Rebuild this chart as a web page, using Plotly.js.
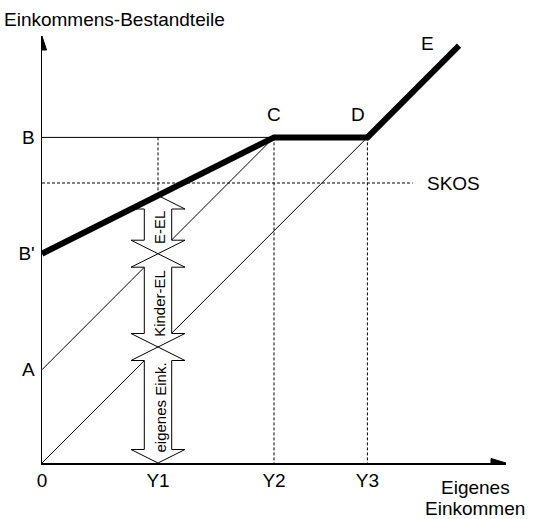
<!DOCTYPE html>
<html>
<head>
<meta charset="utf-8">
<script src="https://cdn.plot.ly/plotly-3.0.1.min.js"></script>
<style>
  html, body { margin: 0; padding: 0; background: white; }
  #graph { width: 534px; height: 519px; }
</style>
</head>
<body>
<div id="graph"></div>
<script>
// values (1 unit ~ 1 px)
const incomeLabels = ['0', 'Y1', 'Y2', 'Y3'];
const incomeVals = [0, 116, 232, 325.4];
const levelLabels = ['A', "B'", 'B'];
const levelVals = [93.3, 209.3, 325.6];
const skosLevel = 280;
const skosEnd = 370.7;

// thick curve B' - C - D - E
const totalX = [0, 232, 325.4, 417];
const totalY = [209.3, 325.6, 325.6, 417.3];
const pointNames = ["B'", 'C', 'D', 'E'];

// stacked parts at Y1, from the bottom
const partNames = ['eigenes Eink.', 'Kinder-EL', 'E-EL'];
const partEdges = [0, 116, 209.3, 267.5];

const xMax = 464;
const yMax = 427;
const font = 'Arial, "Liberation Sans", sans-serif';

const A = levelVals[0];
const B = levelVals[2];
const Y1 = incomeVals[1];
const Y2 = incomeVals[2];
const Y3 = incomeVals[3];

const thin = { color: 'black', width: 1 };
const dashed = { color: 'black', width: 1, dash: '3px,2px' };

function seg(x, y, line) {
    return { x: x, y: y, mode: 'lines', line: line, hoverinfo: 'skip' };
}

const traces = [];

// thin solid guide lines
traces.push(seg([0, Y2], [B, B], thin));
traces.push(seg([0, Y2], [A, totalY[1]], thin));
traces.push(seg([0, Y3], [0, totalY[2]], thin));

// dashed guide lines
traces.push(seg([0, skosEnd], [skosLevel, skosLevel], dashed));
traces.push(seg([Y1, Y1], [B, partEdges[3]], dashed));
traces.push(seg([Y2, Y2], [B, 0], dashed));
traces.push(seg([Y3, Y3], [B, 0], dashed));

// block double arrows at Y1
const headW = 27, shaftW = 13.7, headH = 13.5;
function arrowPath(cx, y0, y1) {
    const xs = [cx, cx + headW, cx + shaftW, cx + shaftW, cx + headW, cx,
                cx - headW, cx - shaftW, cx - shaftW, cx - headW, cx];
    const ys = [y1, y1 - headH, y1 - headH, y0 + headH, y0 + headH, y0,
                y0 + headH, y0 + headH, y1 - headH, y1 - headH, y1];
    return { x: xs, y: ys };
}
const arrows = partNames.map((_, i) => arrowPath(Y1, partEdges[i], partEdges[i + 1]));
arrows.forEach(p => {
    traces.push({ x: p.x, y: p.y, mode: 'lines', fill: 'toself', fillcolor: 'white',
        line: { width: 0, color: 'white' }, hoverinfo: 'skip' });
});
arrows.forEach(p => {
    traces.push({ x: p.x, y: p.y, mode: 'lines', line: thin, hoverinfo: 'skip' });
});

// thick total line
traces.push({
    x: totalX, y: totalY, mode: 'lines',
    line: { color: 'black', width: 6 },
    hoverinfo: 'skip',
});

// axis arrow heads
traces.push({ x: [-4.5, 4.5, 0, -4.5], y: [yMax - 14, yMax - 14, yMax, yMax - 14],
    mode: 'lines', fill: 'toself', fillcolor: 'black', line: { width: 1, color: 'black' }, hoverinfo: 'skip' });
traces.push({ x: [xMax - 15, xMax - 15, xMax, xMax - 15], y: [-4.5, 4.5, 0, -4.5],
    mode: 'lines', fill: 'toself', fillcolor: 'black', line: { width: 1, color: 'black' }, hoverinfo: 'skip' });

const annotations = [];

// point labels C, D, E
const labelShift = { C: [0, 23], D: [-9, 23], E: [-32, 2] };
pointNames.forEach((name, i) => {
    if (!labelShift[name]) return;
    annotations.push({
        x: totalX[i], y: totalY[i], xref: 'x', yref: 'y', text: name, showarrow: false,
        xshift: labelShift[name][0], yshift: labelShift[name][1],
        font: { family: font, size: 19, color: 'black' },
    });
});

annotations.push({
    x: skosEnd, y: skosLevel, xref: 'x', yref: 'y', text: 'SKOS', showarrow: false,
    xanchor: 'left', xshift: 12,
    font: { family: font, size: 19, color: 'black' },
});

// labels inside the arrows
partNames.forEach((name, i) => {
    annotations.push({
        x: Y1, y: (partEdges[i] + partEdges[i + 1]) / 2 - 3, xref: 'x', yref: 'y',
        text: name, showarrow: false, textangle: -90, xshift: 1.5,
        font: { family: font, size: 15, color: 'black' },
    });
});

// axis titles
annotations.push({
    x: -40 / xMax, y: 1 + 16 / yMax, xref: 'paper', yref: 'paper',
    text: 'Einkommens-Bestandteile', showarrow: false, xanchor: 'left', yanchor: 'middle',
    font: { family: font, size: 19, color: 'black' },
});
annotations.push({
    x: 433 / xMax, y: -24 / yMax, xref: 'paper', yref: 'paper',
    text: 'Eigenes', showarrow: false, xanchor: 'center', yanchor: 'middle',
    font: { family: font, size: 19, color: 'black' },
});
annotations.push({
    x: 433 / xMax, y: -46 / yMax, xref: 'paper', yref: 'paper',
    text: 'Einkommen', showarrow: false, xanchor: 'center', yanchor: 'middle',
    font: { family: font, size: 19, color: 'black' },
});

const layout = {
    width: 534,
    height: 519,
    showlegend: false,
    hovermode: false,
    plot_bgcolor: 'white',
    paper_bgcolor: 'white',
    margin: { l: 42, r: 28, t: 36, b: 56 },
    xaxis: {
        range: [0, xMax], showgrid: false, zeroline: false,
        showline: true, linecolor: 'black', linewidth: 1.5,
        tickmode: 'array', tickvals: incomeVals, ticktext: incomeLabels,
        ticks: '', ticklabelstandoff: 0,
        tickfont: { family: font, size: 19, color: 'black' },
        fixedrange: true,
    },
    yaxis: {
        range: [0, yMax], showgrid: false, zeroline: false,
        showline: true, linecolor: 'black', linewidth: 1.5,
        tickmode: 'array', tickvals: levelVals, ticktext: levelLabels,
        ticks: '', ticklabelstandoff: 2,
        tickfont: { family: font, size: 19, color: 'black' },
        fixedrange: true,
    },
    annotations: annotations,
};

Plotly.newPlot('graph', traces, layout, { displayModeBar: false, staticPlot: true });
</script>
</body>
</html>
